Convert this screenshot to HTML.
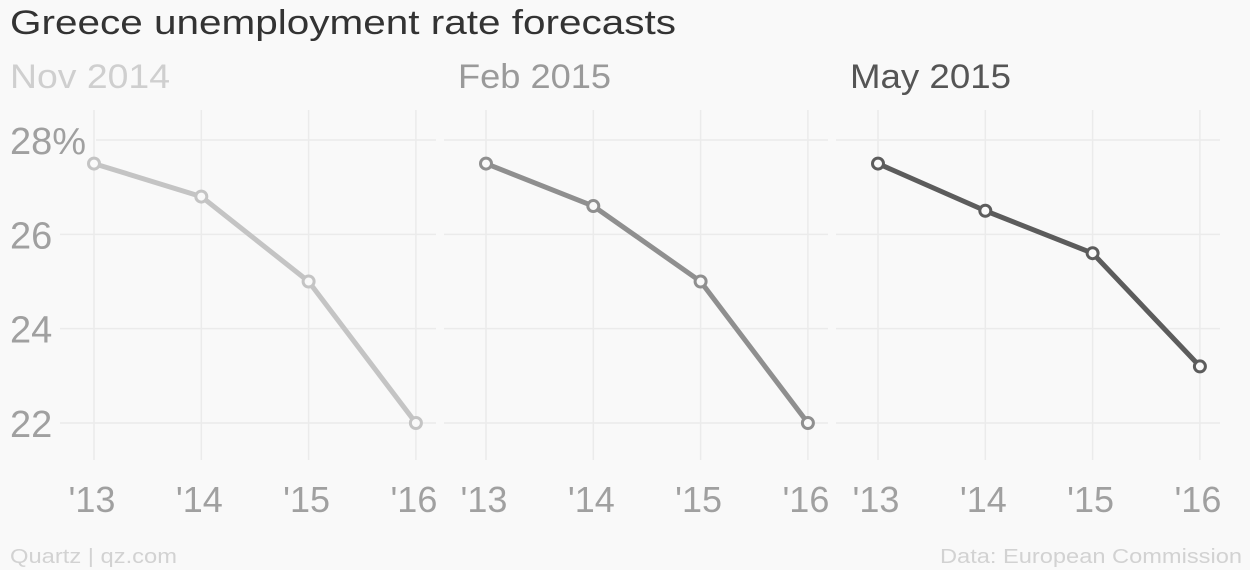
<!DOCTYPE html>
<html><head><meta charset="utf-8"><style>
body{margin:0;background:#f9f9f9;}
svg{display:block;font-family:"Liberation Sans",sans-serif;}
</style></head><body>
<svg id="chart" width="1250" height="570" viewBox="0 0 1250 570">
<rect width="1250" height="570" fill="#f9f9f9"/>
<text x="10" y="34" font-size="34" fill="#333" textLength="666" lengthAdjust="spacingAndGlyphs">Greece unemployment rate forecasts</text>
<text x="10" y="563" font-size="20" fill="#d2d2d2" textLength="167" lengthAdjust="spacingAndGlyphs">Quartz | qz.com</text>
<text x="940" y="563" font-size="20" fill="#d2d2d2" textLength="302" lengthAdjust="spacingAndGlyphs">Data: European Commission</text>
<g id="panels"></g>
</svg>
<script>
const years = ["'13","'14","'15","'16"];
const yTicks = [22,24,26,28];
const panelTitles = ["Nov 2014","Feb 2015","May 2015"];
const seriesNov2014 = [27.5,26.8,25.0,22.0];
const seriesFeb2015 = [27.5,26.6,25.0,22.0];
const seriesMay2015 = [27.5,26.5,25.6,23.2];
const allSeries = [seriesNov2014,seriesFeb2015,seriesMay2015];

const NS="http://www.w3.org/2000/svg";
const g=document.getElementById('panels');
const colors=["#c4c4c4","#8f8f8f","#5c5c5c"];
const titleColors=["#cfcfcf","#9a9a9a","#555"];
const titleW=[160,153,161];
const panelX0=[94,486,878];
const gridL=[60,444,836], gridR=[436,828,1220];
const step=107.3;
function y(v){return 423-(v-22)*(423-140)/6;}
function mk(tag,attrs,parent){const e=document.createElementNS(NS,tag);for(const k in attrs)e.setAttribute(k,attrs[k]);(parent||g).appendChild(e);return e;}
allSeries.forEach((s,p)=>{
  const x=i=>panelX0[p]+i*step;
  const t=mk('text',{x:(p==0?10:panelX0[p]-28),y:88,'font-size':34,fill:titleColors[p],textLength:titleW[p],lengthAdjust:'spacingAndGlyphs'});
  t.textContent=panelTitles[p];
  
  
  yTicks.forEach(v=>{
    const l=mk('line',{x1:(p==0?(v==28?96:60):gridL[p]),x2:gridR[p],y1:y(v),y2:y(v),stroke:'#ebebeb','stroke-width':1.5});
    
    
  });
  years.forEach((yr,i)=>{
    const l=mk('line',{x1:x(i),x2:x(i),y1:110,y2:460,stroke:'#ebebeb','stroke-width':1.5});
    
    
    const tx=mk('text',{x:x(i)-2,y:512,'font-size':36,fill:'#a0a0a0','text-anchor':'middle'});
    tx.textContent=yr;
    
    
  });
  const pl=mk('polyline',{points:s.map((v,i)=>x(i)+','+y(v)).join(' '),fill:'none',stroke:colors[p],'stroke-width':5,'stroke-linejoin':'round'});
  
  
  s.forEach((v,i)=>{
    const c=mk('circle',{cx:x(i),cy:y(v),r:5.5,fill:'#f9f9f9',stroke:colors[p],'stroke-width':3});
    
    
  });
});
yTicks.forEach(v=>{
  const t=mk('text',{x:10,y:y(v)+14,'font-size':38,fill:'#a0a0a0'});
  t.textContent=v==28?'28%':String(v);
  
  
});
</script>
</body></html>
